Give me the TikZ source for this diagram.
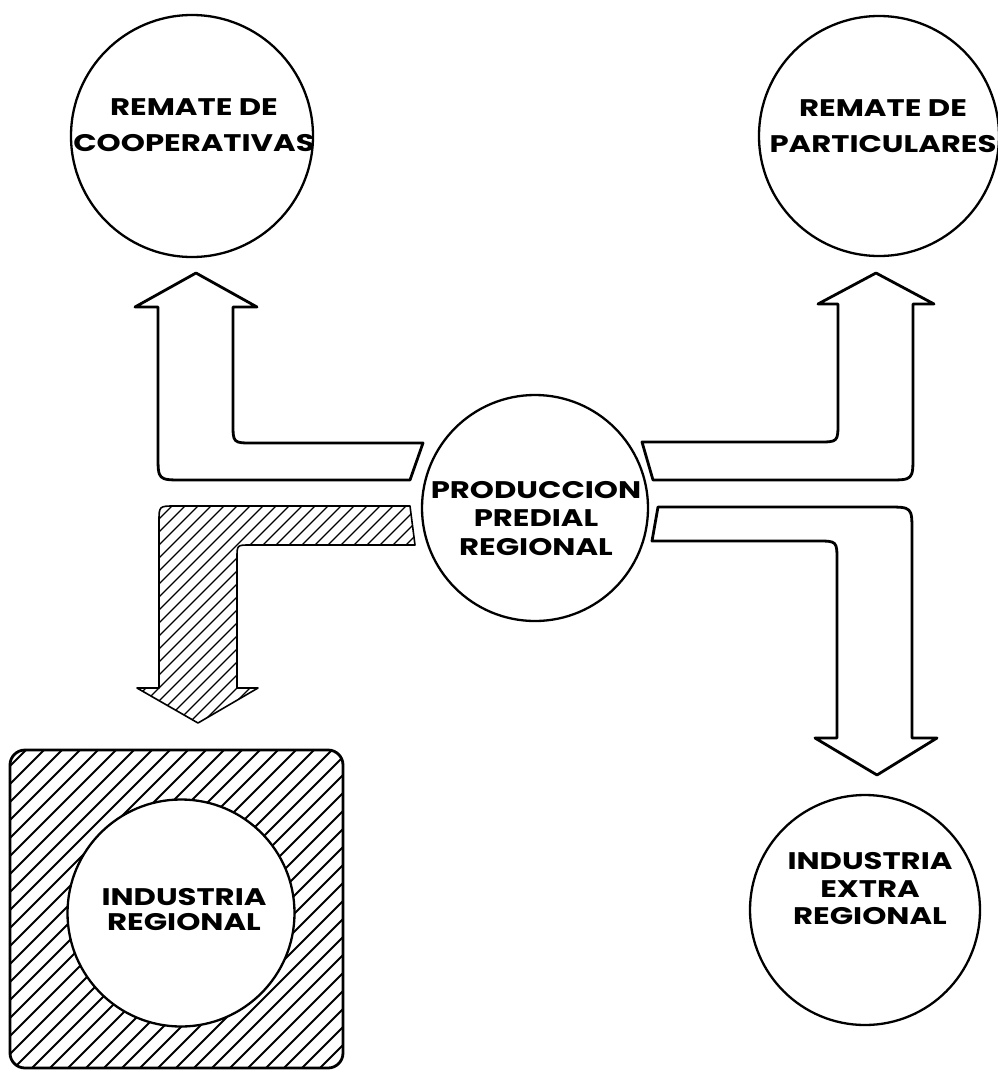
\documentclass[tikz,border=0pt]{standalone}
\usepackage{fontspec}
\newfontfamily\lblfont[FakeStretch=1.28]{Poppins}
\begin{document}
\begin{tikzpicture}[x=1pt,y=-1pt,
  circ/.style={circle,draw,line width=2.3pt,inner sep=0pt,outer sep=0pt,fill=white},
  lbl/.style={align=center,inner sep=0pt,font=\lblfont\bfseries\fontsize{24}{#1}\selectfont},
  lbl/.default=36,
  blk/.style={draw,line width=2.8pt,line join=round,fill=white},
]
\useasboundingbox[fill=white] (0,0) rectangle (998,1071);

% circles
\node[circ,minimum size=242pt] (coop) at (192,136) {};
\node[circ,minimum size=240pt] (part) at (879,136) {};
\node[circ,minimum size=226pt] (prod) at (535,508) {};
\node[circ,minimum size=230pt] (extra) at (865,910) {};

% block arrows
\draw[blk] (423,443) -- (253,443) .. controls (233,443) .. (233,423) -- (233,307)
  -- (257,307) -- (196,273) -- (135,307) -- (158,307) -- (158,455)
  .. controls (158,480) .. (183,480) -- (410,480) -- cycle;
\draw[blk] (642,442) -- (818,442) .. controls (838,442) .. (838,422) -- (838,304)
  -- (818,304) -- (876,273) -- (934,304) -- (913,304) -- (913,455)
  .. controls (913,480) .. (888,480) -- (653,480) -- cycle;
\draw[blk] (658,507) -- (887,507) .. controls (912,507) .. (912,532) -- (912,738)
  -- (937,738) -- (877,775) -- (815,738) -- (837,738) -- (837,561)
  .. controls (837,541) .. (817,541) -- (652,541) -- cycle;

% hatched arrow
\begin{scope}
\clip (410,506) -- (175,506) .. controls (159,506) .. (159,522) -- (159,688)
  -- (137,688) -- (198,723) -- (258,688) -- (237,688) -- (237,558)
  .. controls (237,545) .. (250,545) -- (415,545) -- cycle;
\foreach \c in {600,613,...,1000} \draw[line width=1.3pt] (\c,0) -- ++(-1000,1000);
\end{scope}
\draw[line width=1.6pt,line join=round] (410,506) -- (175,506) .. controls (159,506) .. (159,522) -- (159,688)
  -- (137,688) -- (198,723) -- (258,688) -- (237,688) -- (237,558)
  .. controls (237,545) .. (250,545) -- (415,545) -- cycle;

% hatched box
\begin{scope}
\clip[rounded corners=15pt] (10,750) rectangle (343,1068);
\foreach \c in {740,758,...,1440} \draw[line width=1.8pt] (\c,0) -- ++(-1100,1100);
\end{scope}
\node[circ,minimum size=227pt] (regind) at (181,913) {};
\draw[line width=2.8pt,rounded corners=15pt] (10,750) rectangle (343,1068);

% labels
\node[lbl] (coop-t) at (194,125) {REMATE DE\\COOPERATIVAS};
\node[lbl] (part-t) at (883,126.5) {REMATE DE\\PARTICULARES};
\node[lbl=28.5] (prod-t) at (536,518.5) {PRODUCCION\\PREDIAL\\REGIONAL};
\node[lbl=27.5] (extra-t) at (870,889) {INDUSTRIA\\EXTRA\\REGIONAL};
\node[lbl=25] (regind-t) at (184,909.5) {INDUSTRIA\\REGIONAL};
\end{tikzpicture}
\end{document}
